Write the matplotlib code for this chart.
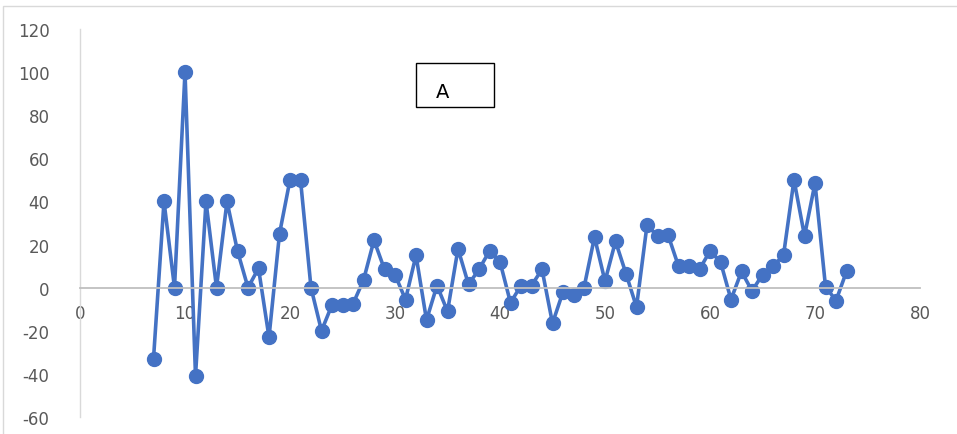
import matplotlib.pyplot as plt
from matplotlib.patches import Rectangle

plt.rcParams["axes.unicode_minus"] = False

x = list(range(7, 74))
y = [-33, 40, 0, 100, -41, 40, 0, 40, 17, 0,
     9, -23, 25, 50, 50, 0, -20, -8, -8, -7.5,
     3.5, 22, 8.5, 6, -5.5, 15, -15, 1, -11, 18,
     1.5, 8.5, 17, 12, -7, 1, 1, 8.5, -16.5, -2,
     -3.5, 0, 23.5, 3, 21.5, 6.5, -9, 29, 24, 24.5,
     10, 10, 8.5, 17, 12, -5.5, 7.5, -1.5, 6, 10,
     15, 50, 24, 48.5, 0.5, -6, 7.5]
xticks = [0, 10, 20, 30, 40, 50, 60, 70, 80]
yticks = [-60, -40, -20, 0, 20, 40, 60, 80, 100, 120]

W, H = 957, 435
fig = plt.figure(figsize=(W / 100, H / 100), dpi=100)
ax = fig.add_axes([80 / W, 1 - 418 / H, 840 / W, 388 / H])

ax.plot(x, y, color="#4472C4", lw=2.6, marker="o", ms=10)

ax.set_xlim(0, 80)
ax.set_ylim(-60, 120)
ax.set_xticks(xticks)
ax.set_yticks(yticks)
for s in ["top", "right"]:
    ax.spines[s].set_visible(False)
ax.spines["bottom"].set_position(("data", 0))
ax.spines["bottom"].set_color("#BFBFBF")
ax.spines["left"].set_color("#D9D9D9")
ax.spines["bottom"].set_linewidth(1.3)
ax.spines["left"].set_linewidth(1.0)
ax.tick_params(axis="x", length=0, pad=12, labelsize=12, labelcolor="#595959")
ax.tick_params(axis="y", length=0, pad=22, labelsize=12, labelcolor="#595959")

# label box
fig.patches.append(Rectangle((416 / W, 1 - 108 / H), 78 / W, 44 / H,
                             transform=fig.transFigure, fill=True,
                             fc="white", ec="black", lw=1, zorder=5))
fig.text(443 / W, 1 - 93 / H, "A", fontsize=14, color="black",
         ha="center", va="center", zorder=6)

# outer chart border
fig.patches.append(Rectangle((3 / W, -0.01), 1, 1 - 7 / H + 0.01,
                             transform=fig.transFigure, fill=False,
                             ec="#D9D9D9", lw=1))

fig.savefig("out.png", dpi=100)
